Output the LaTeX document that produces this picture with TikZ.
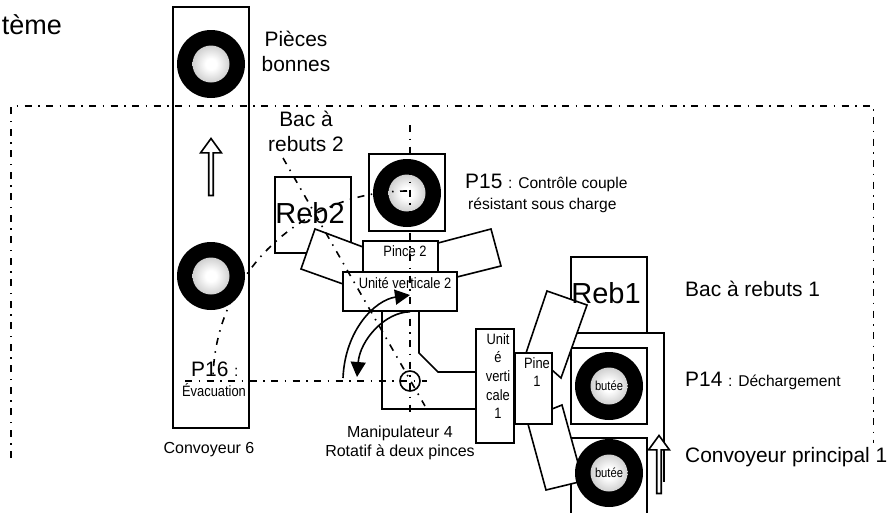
\documentclass[tikz,border=0pt]{standalone}
\usepackage{fontspec}
\setmainfont{Liberation Sans}
\newfontfamily\narrowfont[FakeStretch=0.86]{Liberation Sans}
\usetikzlibrary{arrows.meta,shapes.arrows}
\pgfdeclareradialshading{ballshade}{\pgfpointorigin}{color(0bp)=(white); color(4bp)=(white); color(25bp)=(black!40); color(50bp)=(black!40)}
\newcommand{\tbig}{\fontsize{20.9}{25}\selectfont}
\newcommand{\tmid}{\fontsize{16}{19}\selectfont}
\newcommand{\tpart}{\fontsize{15.6}{19}\selectfont}
\newcommand{\tsmall}{\narrowfont\fontsize{15}{18.6}\selectfont}

\begin{document}
\begin{tikzpicture}[x=1pt,y=-1pt,
    ln/.style={line width=1.6pt},
    boxn/.style={draw, fill=white, line width=1.6pt, rectangle, inner sep=0pt},
    finger/.style={draw, fill=white, line width=1.6pt, line join=miter},
    puck/.style={circle, fill=black, inner sep=0pt, minimum size=68pt,
                 font=\narrowfont\fontsize{13}{13}\selectfont,
                 path picture={\shade[shading=ballshade]
                   (path picture bounding box.center) circle (18.5pt);}},
    upar/.style={single arrow, draw, fill=white, line width=1.6pt, inner sep=0pt,
                 shape border rotate=90, minimum width=21pt,
                 single arrow head extend=3pt, single arrow tip angle=72},
    axe/.style={line width=1.6pt, dash pattern=on 7pt off 6.5pt on 1.5pt off 6.5pt},
    turn/.style={line width=1.6pt, -{Triangle[length=15pt,width=15pt]}},
    lab/.style={inner sep=0pt, align=center}]
  \clip (0,0) rectangle (889,512);
  \fill[white] (0,0) rectangle (889,512);
  % conveyors and bins
  \node[boxn, minimum width=76pt, minimum height=421pt] (conv6) at (211,217.5) {};
  \node[puck] (good) at (211,64) {};
  \node[upar, minimum height=57pt] (up6) at (211,168.5) {};
  \node[boxn, minimum width=76pt, minimum height=76pt] (reb2) at (313,215) {};
  \node[boxn, minimum width=76pt, minimum height=77pt] (p15box) at (407,192.5) {};
  \node[puck] (p15) at (407,193) {};
  \node[boxn, minimum width=76pt, minimum height=76pt] (reb1) at (609,295) {};
  \coordinate (mainA) at (571,333);
  \coordinate (mainB) at (664,482);
  \draw[ln] (mainA) -| (mainB);
  \node[boxn, minimum width=76pt, minimum height=76pt] (p14box) at (609,386) {};
  \node[boxn, minimum width=76pt, minimum height=92pt] (stopbox) at (609,484) {};
  % manipulator
  \coordinate (bl) at (382,409);
  \coordinate (br) at (419,353);
  \coordinate (brk) at (438,372);
  \draw[finger] (315,229) -- (363,247) -- (363,284) -- (343,284) -- (301,269) -- cycle;
  \draw[finger] (438,243) -- (491,229) -- (501,266) -- (457,277) -- (438,277) -- cycle;
  \node[boxn, minimum width=75pt, minimum height=31pt] (pince2) at (400.5,256.5) {};
  \node[boxn, minimum width=114pt, minimum height=39pt] (uv2) at (400,291.5) {};
  \node[boxn, minimum width=38pt, minimum height=114pt] (uv1) at (495,386) {};
  \draw[ln] (uv2.south -| bl) -- (bl) -- (bl -| uv1.west);
  \draw[ln] (uv2.south -| br) -- (br) -- (brk) -- (brk -| uv1.west);
  \draw[finger] (526,353) -- (547,291) -- (587,305) -- (561,378) -- (552,370) -- cycle;
  \draw[finger] (528,424) -- (546,490) -- (583,481) -- (562,405) -- (552,409) -- cycle;
  \node[boxn, minimum width=37pt, minimum height=71pt] (pine1) at (533.5,388.5) {};
  \node[puck] (p14) at (609,386) {butée};
  \node[puck] (stop) at (609,473) {butée};
  \node[upar, minimum height=58pt] (upmain) at (659,466) {};
  % texts
  \node[lab, anchor=base east, font=\fontsize{27}{27}\selectfont] (sys) at (62,34) {tème};
  \node[lab, font=\tbig] (bonnes) at (296,51) {Pièces\\bonnes};
  \node[lab, font=\tbig] (bac2) at (306,131) {Bac à\\rebuts 2};
  \node[lab, anchor=base, font=\fontsize{29}{29}\selectfont] (reb2t) at (310,223) {Reb2};
  \node[lab, anchor=base, font=\fontsize{29}{29}\selectfont] (reb1t) at (606,303) {Reb1};
  \node[lab, anchor=base west] (p15t) at (465,188) {\tbig P15 \tpart : Contrôle couple};
  \node[lab, anchor=base west, font=\tpart] (p15u) at (468,209) {résistant sous charge};
  \node[lab, font=\tsmall] (pince2t) at (405,251) {Pince 2};
  \node[lab, font=\tsmall] (uv2t) at (405,283) {Unité verticale 2};
  \node[lab, font=\tsmall] (uv1t) at (498,376) {Unit\\é\\verti\\cale\\1};
  \node[lab, font=\tsmall] (pine1t) at (537,372) {Pine\\1};
  \node[lab, anchor=base west, font=\tbig] (bac1) at (685,296) {Bac à rebuts 1};
  \node[lab, anchor=base west] (p14t) at (685,386) {\tbig P14 \tpart : Déchargement};
  \node[lab, anchor=base west, font=\tbig] (mainc) at (685,462) {Convoyeur principal 1};
  \node[lab, anchor=base west] (p16t) at (191,376) {\tbig P16 \tpart :};
  \node[lab, anchor=base, font=\tsmall] (evac) at (214,396) {Évacuation};
  \node[lab, anchor=base, font=\tmid] (conv6t) at (209,453) {Convoyeur 6};
  \node[lab, font=\tmid] (manip) at (400,443) {Manipulateur 4\\Rotatif à deux pinces};
  % axes
  \coordinate (centre) at (410,381);
  \draw[axe] (11,458) -- (11,106) -- (873.5,106) -- (873.5,443);
  \draw[axe] (410,125) -- (410,413);
  \draw[axe] (185,381) -- (427,381);
  \draw[axe] (283,158) -- (425,406);
  \draw[axe] (407,191) .. controls (301,191) and (213,276) .. (213,381);
  \node[circle, draw, line width=1.6pt, minimum size=20pt, inner sep=0pt] (pivot) at (centre) {};
  \node[puck] (scrap) at (211,276) {};
  \draw[turn] (343,378) .. controls (345,330) and (375,300) .. (410,295);
  \draw[turn] (uv2.south -| centre) .. controls (385,312) and (360,340) .. (357,377);
\end{tikzpicture}
\end{document}
